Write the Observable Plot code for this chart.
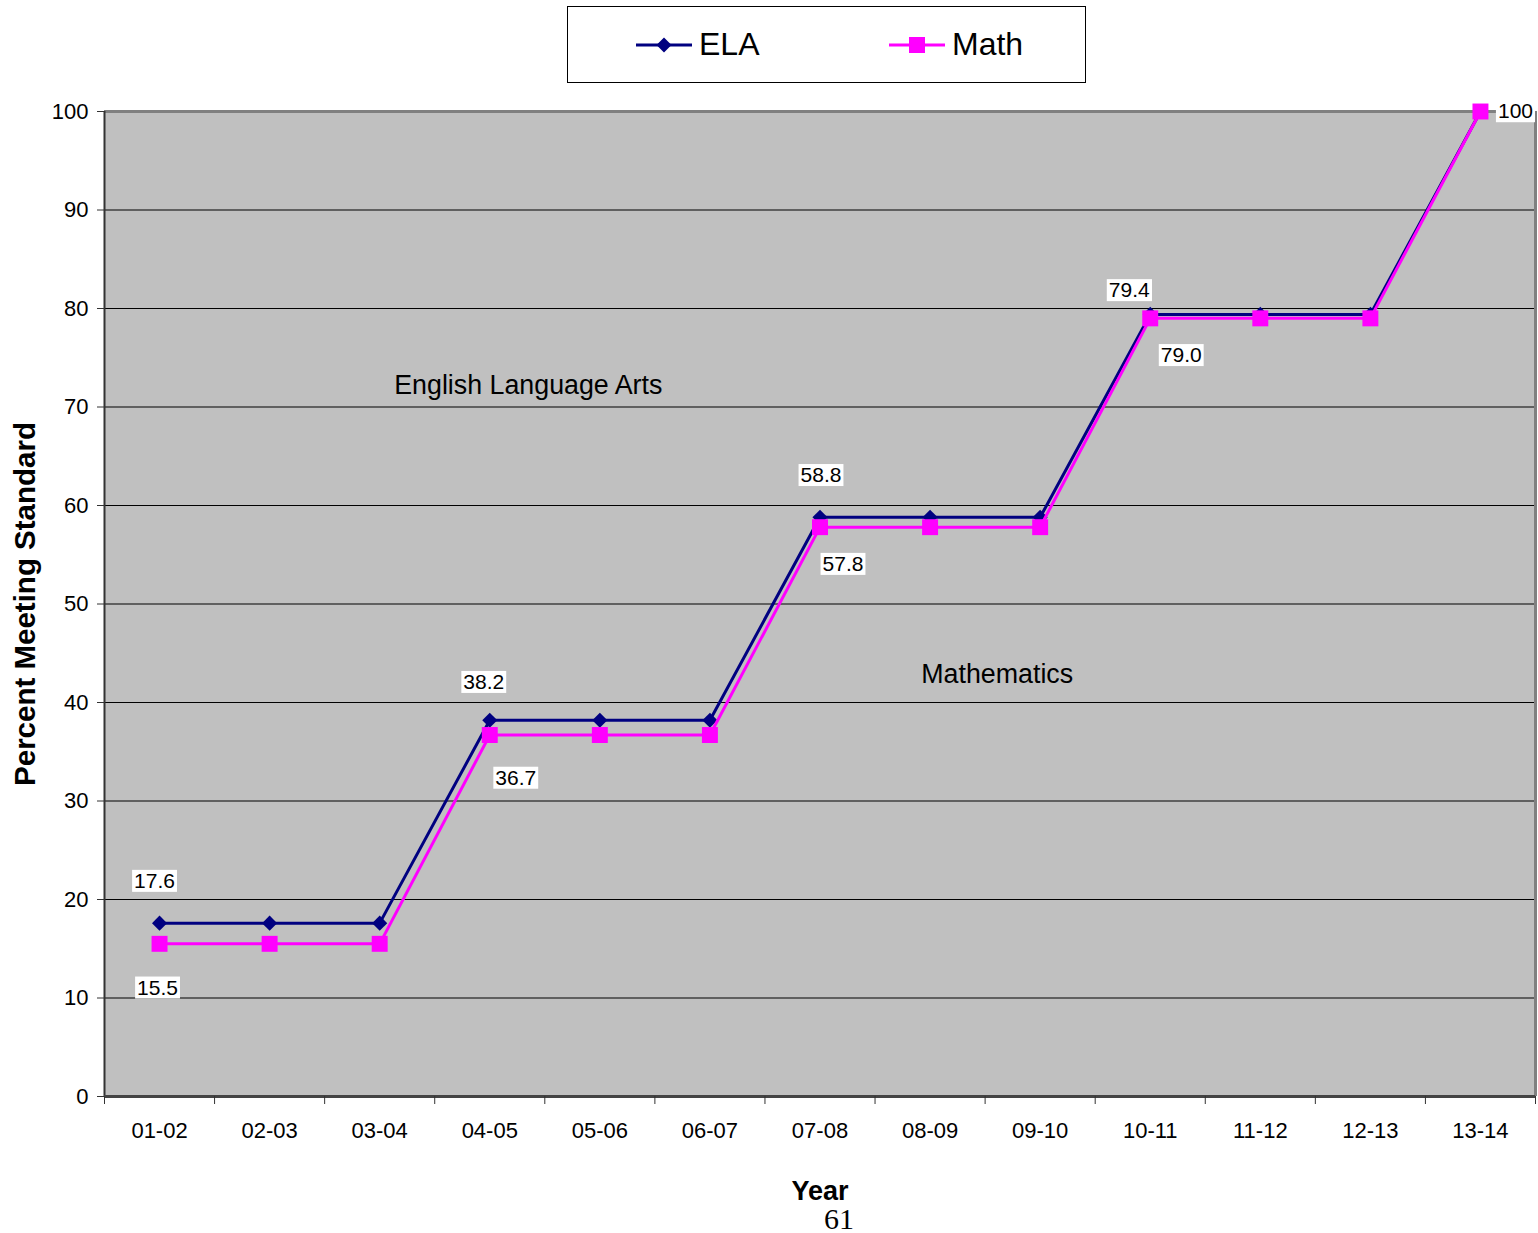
<!DOCTYPE html>
<html>
<head>
<meta charset="utf-8">
<script src="https://cdn.jsdelivr.net/npm/d3@7"></script>
<script src="https://cdn.jsdelivr.net/npm/@observablehq/plot@0.6"></script>
<style>
  html, body { margin: 0; padding: 0; background: #fff; }
  #wrap { position: relative; width: 1538px; height: 1233px; font-family: "Liberation Sans", Arial, sans-serif; }
  #legend { position: absolute; left: 567px; top: 6px; width: 517px; height: 75px; border: 1px solid #000; background: #fff; }
  #legend .item { position: absolute; top: 0; height: 75px; display: flex; align-items: center; font-size: 32px; color: #000; }
  #legend svg { display: block; margin-right: 7px; }
</style>
</head>
<body>
<div id="wrap">
  <div id="legend"></div>
</div>
<script>
// ---- data ----
const years = ["01-02","02-03","03-04","04-05","05-06","06-07","07-08","08-09","09-10","10-11","11-12","12-13","13-14"];
const ela  = [17.6,17.6,17.6,38.2,38.2,38.2,58.8,58.8,58.8,79.4,79.4,79.4,100];
const math = [15.5,15.5,15.5,36.7,36.7,36.7,57.8,57.8,57.8,79.0,79.0,79.0,100];
const yTicks = [0,10,20,30,40,50,60,70,80,90,100];
const seriesNames = ["ELA", "Math"];
const annotations = [
  {text: "English Language Arts", x: 3.85, y: 72.2},
  {text: "Mathematics", x: 8.11, y: 42.9}
];

const NAVY = "#000080", MAGENTA = "#FF00FF";
const FONT = "'Liberation Sans', Arial, sans-serif";

const elaData = ela.map((v, i) => ({x: i + 0.5, y: v, year: years[i]}));
const mathData = math.map((v, i) => ({x: i + 0.5, y: v, year: years[i]}));

function label(data, i, dx, dy) {
  return Plot.text([data[i]], {
    x: "x", y: "y", text: d => d.y === 100 ? "100" : d.y.toFixed(1),
    dx, dy, fontSize: 21, fill: "#000", textAnchor: "middle", lineAnchor: "middle",
    ariaDescription: "data-label"
  });
}

const chart = Plot.plot({
  width: 1538,
  height: 1233,
  marginLeft: 104,
  marginRight: 3,
  marginTop: 111,
  marginBottom: 137,
  style: {fontFamily: FONT, background: "transparent", overflow: "visible"},
  x: {type: "linear", domain: [0, 13], axis: null},
  y: {domain: [0, 100], axis: null},
  marks: [
    Plot.frame({fill: "#c0c0c0", stroke: null}),
    Plot.ruleY(yTicks.filter(t => t > 0 && t < 100), {stroke: "#000", strokeWidth: 1}),
    Plot.ruleY([100], {stroke: "#808080", strokeWidth: 3}),
    Plot.ruleX([13], {stroke: "#808080", strokeWidth: 3}),
    Plot.ruleX([0], {stroke: "#333", strokeWidth: 2}),
    Plot.ruleY([0], {stroke: "#444", strokeWidth: 3}),
    Plot.axisY({ticks: yTicks, tickSize: 7, tickPadding: 9, fontSize: 22, label: null, stroke: "#333", color: "#000"}),
    Plot.axisX({ticks: d3.range(0, 14), tickFormat: () => "", tickSize: 8, label: null, stroke: "#333"}),
    Plot.axisX({ticks: years.map((_, i) => i + 0.5), tickFormat: d => years[Math.round(d - 0.5)], tickSize: 0, tickPadding: 26, fontSize: 22, label: null, color: "#000"}),
    Plot.line(elaData, {x: "x", y: "y", stroke: NAVY, strokeWidth: 3}),
    Plot.dot(elaData, {x: "x", y: "y", symbol: "diamond2", r: 6.8, fill: NAVY, stroke: null}),
    Plot.line(mathData, {x: "x", y: "y", stroke: MAGENTA, strokeWidth: 3}),
    Plot.dot(mathData, {x: "x", y: "y", symbol: "square", r: 9, fill: MAGENTA, stroke: null}),
    label(elaData, 0, -5, -42),
    label(elaData, 3, -6, -38),
    label(elaData, 6, 1, -42),
    label(elaData, 9, -21, -24),
    label(mathData, 0, -2, 44),
    label(mathData, 3, 26, 43),
    label(mathData, 6, 23, 37),
    label(mathData, 9, 31, 37),
    label(mathData, 12, 35, 0),
    Plot.text(annotations, {x: "x", y: "y", text: "text", fontSize: 26.8, fill: "#000", textAnchor: "middle", lineAnchor: "middle"}),
    Plot.text(["Percent Meeting Standard"], {frameAnchor: "left", dx: -79, rotate: -90, fontSize: 29.5, fontWeight: "bold", fill: "#000", textAnchor: "middle", lineAnchor: "middle"}),
    Plot.text(["Year"], {frameAnchor: "bottom", dy: 95, fontSize: 27, fontWeight: "bold", fill: "#000", textAnchor: "middle", lineAnchor: "middle"}),
    Plot.text(["61"], {frameAnchor: "bottom", dx: 19, dy: 123, fontSize: 30, fontFamily: "'Liberation Serif', 'Times New Roman', serif", fill: "#000", textAnchor: "middle", lineAnchor: "middle"})
  ]
});

const wrap = document.getElementById("wrap");
chart.style.position = "absolute";
chart.style.left = "0px";
chart.style.top = "0px";
wrap.insertBefore(chart, wrap.firstChild);

// white boxes behind data labels
chart.querySelectorAll('g[aria-description="data-label"] text').forEach(t => {
  const b = t.getBBox();
  const r = document.createElementNS("http://www.w3.org/2000/svg", "rect");
  r.setAttribute("x", b.x - 2);
  r.setAttribute("y", b.y + 1);
  r.setAttribute("width", b.width + 4);
  r.setAttribute("height", b.height - 1);
  r.setAttribute("fill", "#fff");
  r.setAttribute("stroke", "none");
  const tr = t.getAttribute("transform");
  if (tr) r.setAttribute("transform", tr);
  t.parentNode.insertBefore(r, t);
});

// legend
const legend = document.getElementById("legend");
const items = [
  {name: seriesNames[0], color: NAVY, shape: "diamond", left: 68},
  {name: seriesNames[1], color: MAGENTA, shape: "square", left: 321}
];
items.forEach(it => {
  const div = document.createElement("div");
  div.className = "item";
  div.style.left = it.left + "px";
  const ns = "http://www.w3.org/2000/svg";
  const s = document.createElementNS(ns, "svg");
  s.setAttribute("width", 56); s.setAttribute("height", 20);
  const ln = document.createElementNS(ns, "line");
  ln.setAttribute("x1", 0); ln.setAttribute("x2", 56); ln.setAttribute("y1", 10); ln.setAttribute("y2", 10);
  ln.setAttribute("stroke", it.color); ln.setAttribute("stroke-width", 3);
  s.appendChild(ln);
  const m = document.createElementNS(ns, "path");
  m.setAttribute("d", it.shape === "diamond" ? "M28,2.5L35.5,10L28,17.5L20.5,10Z" : "M20,2H36V18H20Z");
  m.setAttribute("fill", it.color);
  s.appendChild(m);
  div.appendChild(s);
  const span = document.createElement("span");
  span.textContent = it.name;
  div.appendChild(span);
  legend.appendChild(div);
});
</script>
</body>
</html>
